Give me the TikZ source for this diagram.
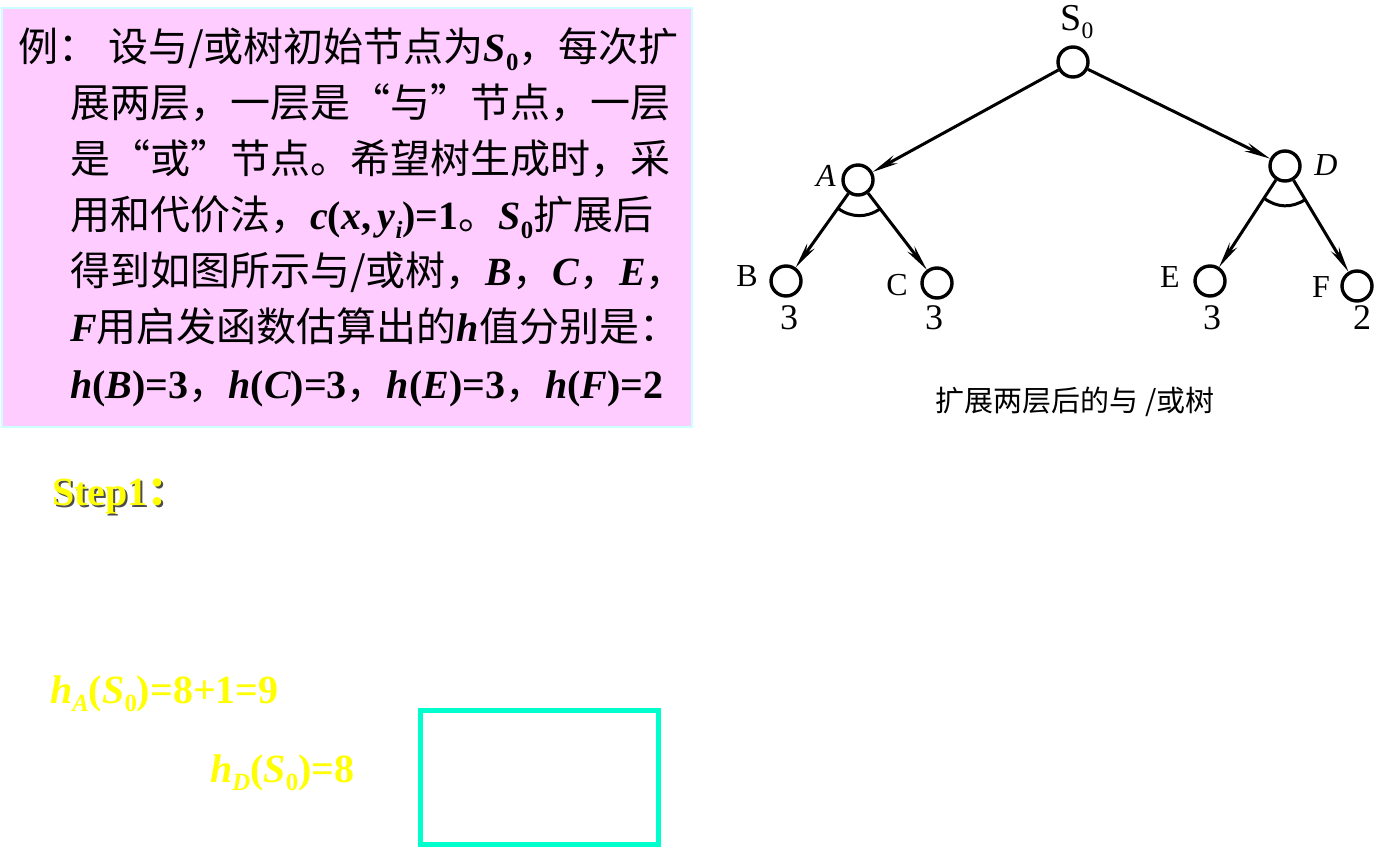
\documentclass[tikz,border=0pt]{standalone}
\usepackage{fontspec}
\setmainfont{Noto Sans CJK SC}
\newfontfamily\cjk{Noto Sans CJK SC}
\newfontfamily\latfont{Liberation Serif}
\usetikzlibrary{arrows.meta,calc}

\definecolor{boxpink}{RGB}{255,204,255}
\definecolor{boxrim}{RGB}{204,255,255}
\definecolor{stepyellow}{RGB}{255,255,0}
\definecolor{framecyan}{RGB}{0,255,204}

% bold italic and bold upright Latin
\newcommand\bi[1]{{\latfont\bfseries\itshape #1}}
\newcommand\bu[1]{{\latfont\bfseries #1}}
\newcommand\lowidx[1]{\raisebox{-0.22em}{\scalebox{0.62}{#1}}}

\tikzset{
    ornode/.style={circle,draw,line width=3.4pt,minimum size=30pt,inner sep=0pt},
    treelabel/.style={font=\latfont\fontsize{32}{32}\selectfont,inner sep=0pt},
    branch/.style={line width=3pt,-{Stealth[length=26pt,width=9pt]}},
    textline/.style={anchor=base west,inner sep=0pt,font=\fontsize{40}{40}\selectfont},
    yellowline/.style={anchor=base west,inner sep=0pt,text=stepyellow,
        font=\latfont\bfseries\fontsize{40}{40}\selectfont},
}

\begin{document}
\begin{tikzpicture}[x=1pt,y=-1pt]
    \useasboundingbox (0,0) rectangle (1395,858);

    %example box:
    \fill[boxpink,draw=boxrim,line width=2pt] (2,8) rectangle (692,427);
    \node[textline] (l1a) at (18,62) {例：};
    \node[textline] (l1) at (108,62) {设与/或树初始节点为\bi{S}\lowidx{\bu{0}}，每次扩};
    \node[textline] (l2) at (70,118) {展两层，一层是“与”节点，一层};
    \node[textline] (l3) at (70,174) {是“或”节点。希望树生成时，采};
    \node[textline] (l4) at (70,230) {用和代价法，\bi{c}\bu{(}\bi{x}\bu{,\,}\bi{y}\lowidx{\bi{i}}\bu{)=1}。\bi{S}\lowidx{\bu{0}}扩展后};
    \node[textline] (l5) at (70,286) {得到如图所示与/或树，\bi{B}，\bi{C}，\bi{E}，};
    \node[textline] (l6) at (70,342) {\bi{F}用启发函数估算出的\bi{h}值分别是：};
    \node[textline] (l7) at (70,399) {\bi{h}\bu{(}\bi{B}\bu{)=3}，\bi{h}\bu{(}\bi{C}\bu{)=3}，\bi{h}\bu{(}\bi{E}\bu{)=3}，\bi{h}\bu{(}\bi{F}\bu{)=2}};

    %tree:
    \node[ornode] (S0) at (1073,62) {};
    \node[ornode] (A) at (858,180) {};
    \node[ornode] (D) at (1285,166) {};
    \node[ornode] (B) at (786,281) {};
    \node[ornode] (C) at (937,283) {};
    \node[ornode] (E) at (1210,281) {};
    \node[ornode] (F) at (1357,286) {};

    \draw[branch] (S0) -- (A);
    \draw[branch] (S0) -- (D);
    \draw[branch] (A) -- (B);
    \draw[branch] (A) -- (C);
    \draw[branch] (D) -- (E);
    \draw[branch] (D) -- (F);

    %and arcs:
    \draw[line width=3pt] ($(A)!0.28!(B)$) to[bend right=35] ($(A)!0.28!(C)$);
    \draw[line width=3pt] ($(D)!0.28!(E)$) to[bend right=35] ($(D)!0.28!(F)$);

    \node[treelabel,font=\latfont\fontsize{38}{38}\selectfont] (lS0) at (1077,22) {S\lowidx{0}};
    \node[treelabel] (lA) at (826,176) {\itshape A};
    \node[treelabel] (lD) at (1326,165) {\itshape D};
    \node[treelabel] (lB) at (747,276) {B};
    \node[treelabel] (lC) at (897,285) {C};
    \node[treelabel] (lE) at (1170,277) {E};
    \node[treelabel] (lF) at (1321,287) {F};
    \node[treelabel,font=\latfont\fontsize{36}{36}\selectfont] (vB) at (789,318) {3};
    \node[treelabel,font=\latfont\fontsize{36}{36}\selectfont] (vC) at (934,318) {3};
    \node[treelabel,font=\latfont\fontsize{36}{36}\selectfont] (vE) at (1212,318) {3};
    \node[treelabel,font=\latfont\fontsize{36}{36}\selectfont] (vF) at (1362,318) {2};
    \node[inner sep=0pt,font=\fontsize{29}{29}\selectfont] (cap) at (1075,402) {扩展两层后的与 /或树};

    %step part:
    \node[yellowline,text=black!70] (stepshadow) at (54,507) {Step1{\cjk ：}};
    \node[yellowline] (step) at (52,505) {Step1{\cjk ：}};
    \node[yellowline] (hA) at (50,703) {\itshape h\lowidx{A}\upshape(\itshape S\lowidx{\upshape 0}\upshape)=8+1=9};
    \node[yellowline] (hD) at (210,782) {\itshape h\lowidx{D}\upshape(\itshape S\lowidx{\upshape 0}\upshape)=8};
    \draw[framecyan,line width=5pt] (420.5,710.5) rectangle (658.5,844.5);
\end{tikzpicture}
\end{document}
